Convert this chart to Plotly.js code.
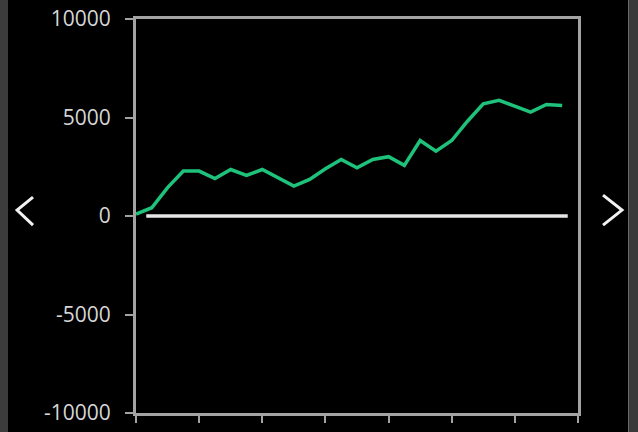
<!DOCTYPE html>
<html><head><meta charset="utf-8">
<script src="https://cdn.plot.ly/plotly-3.0.1.min.js"></script>
<style>
html,body{margin:0;padding:0;background:#000;overflow:hidden;}
#chart{width:638px;height:432px;position:absolute;left:0;top:0;}
.strip{position:absolute;top:0;height:432px;background:#3c3c3c;}
</style></head><body>
<div id="chart"></div>
<div class="strip" style="left:0;width:8px;"></div>
<div class="strip" style="left:628px;width:10px;background:#3a3a3a;border-left:1px solid #6a6a6a;box-sizing:border-box;"></div>
<script>
var xIndex = [0,1,2,3,4,5,6,7,8,9,10,11,12,13,14,15,16,17,18,19,20,21,22,23,24,25,26,27];
var profit = [100,420,1440,2280,2280,1900,2360,2060,2360,1950,1520,1860,2400,2870,2450,2870,3010,2570,3830,3290,3830,4810,5690,5870,5570,5270,5660,5610];
var yTicks = [-10000,-5000,0,5000,10000];
var yTickLabels = ['-10000','-5000','0','5000','10000'];
var xTicks = [0,4,8,12,16,20,24,28];

var trace = {
  x: xIndex, y: profit, type: 'scatter', mode: 'lines',
  line: {color: '#1ec27a', width: 3.5}, hoverinfo: 'skip'
};
var axisCol = '#a3a3a3';
var layout = {
  width: 638, height: 432,
  margin: {l: 136, r: 60, t: 19, b: 19},
  paper_bgcolor: '#000', plot_bgcolor: '#000',
  showlegend: false,
  font: {family: 'Open Sans, sans-serif', color: '#d4d4d4'},
  xaxis: {
    range: [0, 28], tickvals: xTicks, ticktext: xTicks.map(function(){return '';}),
    showgrid: false, zeroline: false, showline: true, linecolor: axisCol, linewidth: 3,
    mirror: true, ticks: 'outside', ticklen: 7, tickwidth: 2, tickcolor: axisCol,
    fixedrange: true
  },
  yaxis: {
    range: [-10000, 10000], tickvals: yTicks, ticktext: yTickLabels,
    showgrid: false, zeroline: false, showline: true, linecolor: axisCol, linewidth: 3,
    mirror: true, ticks: 'outside', ticklen: 8, tickwidth: 2, tickcolor: axisCol,
    tickfont: {size: 21, color: '#d6d6d6', family: 'Open Sans, sans-serif'},
    ticklabelstandoff: 10, fixedrange: true
  },
  shapes: [
    {type: 'line', xref: 'x', yref: 'y', x0: 0.65, x1: 27.35, y0: 0, y1: 0,
     line: {color: '#e6e6e6', width: 3.5}, layer: 'below'},
    {type: 'path', xref: 'paper', yref: 'paper',
     path: 'M -0.233 0.548 L -0.269 0.515 L -0.233 0.477',
     line: {color: '#f2f2f2', width: 3}},
    {type: 'path', xref: 'paper', yref: 'paper',
     path: 'M 1.0566 0.553 L 1.0995 0.515 L 1.0566 0.477',
     line: {color: '#f2f2f2', width: 3}}
  ]
};
Plotly.newPlot('chart', [trace], layout, {displayModeBar: false, staticPlot: true});
</script>
</body></html>
